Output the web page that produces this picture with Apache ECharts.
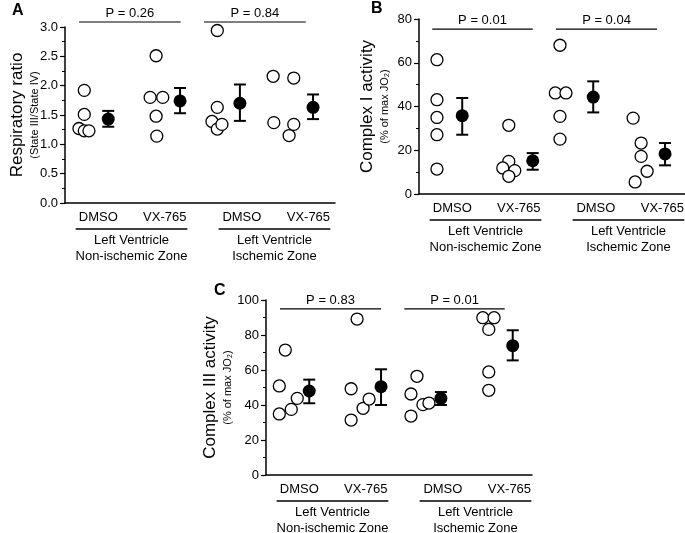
<!DOCTYPE html>
<html>
<head>
    <meta charset="utf-8">
    <title>Respiratory ratio / Complex I / Complex III</title>
    <script src="https://cdn.jsdelivr.net/npm/echarts@6/dist/echarts.min.js"></script>
    <style>
        html, body { margin: 0; padding: 0; background: #fff; }
    </style>
</head>
<body>
    <div id="main" style="width: 685px;height:533px;"></div>
    <script type="text/javascript">
        // shared category labels
        var groupNames = ['DMSO', 'VX-765', 'DMSO', 'VX-765'];
        var labelX = [0.5, 1.5, 2.66, 3.66];
        var zoneNames = ['Left Ventricle\nNon-ischemic Zone', 'Left Ventricle\nIschemic Zone'];
        var zoneX = [1.0, 3.15];
        var zoneHalf = 0.84;

        // A: respiratory ratio
        var rrX = [[0.29, 0.29, 0.21, 0.29, 0.36], [1.37, 1.28, 1.47, 1.37, 1.38], [2.29, 2.29, 2.21, 2.29, 2.36], [3.13, 3.44, 3.14, 3.44, 3.37]];
        var rrVals = [[1.92, 1.51, 1.27, 1.23, 1.23], [2.51, 1.80, 1.80, 1.48, 1.14], [2.94, 1.63, 1.39, 1.26, 1.34], [2.16, 2.13, 1.37, 1.34, 1.15]];
        var rrMeanX = [0.65, 1.73, 2.63, 3.73];
        var rrMean = [1.43, 1.74, 1.70, 1.63];
        var rrLo = [1.30, 1.53, 1.40, 1.43];
        var rrHi = [1.57, 1.96, 2.02, 1.85];
        var rrP = ['P = 0.26', 'P = 0.84'];
        var rrPSpan = [[0.21, 1.74], [2.09, 3.62]];
        var rrPY = 3.085;

        // B: complex I activity
        var ciX = [[0.27, 0.27, 0.27, 0.27, 0.27], [1.35, 1.35, 1.26, 1.44, 1.35], [2.12, 2.05, 2.21, 2.12, 2.12], [3.22, 3.34, 3.34, 3.43, 3.25]];
        var ciVals = [[61.4, 43.1, 35.0, 27.1, 11.4], [31.4, 14.9, 11.9, 10.7, 8.1], [68.0, 46.2, 46.2, 35.5, 25.1], [34.7, 23.3, 17.2, 10.4, 5.5]];
        var ciMeanX = [0.65, 1.71, 2.62, 3.70];
        var ciMean = [35.8, 15.2, 44.3, 18.3];
        var ciLo = [27.1, 11.1, 37.3, 13.1];
        var ciHi = [43.9, 18.7, 51.5, 23.3];
        var ciP = ['P = 0.01', 'P = 0.04'];
        var ciPSpan = [[0.20, 1.71], [2.06, 3.58]];
        var ciPY = 75.4;

        // C: complex III activity
        var c3X = [[0.20, 0.20, 0.29, 0.38, 0.47], [1.37, 1.28, 1.28, 1.46, 1.55], [2.18, 2.18, 2.27, 2.36, 2.45], [3.26, 3.43, 3.35, 3.35, 3.35]];
        var c3Vals = [[34.9, 50.9, 71.4, 37.5, 43.8], [89.1, 49.3, 31.4, 38.1, 43.4], [33.7, 46.3, 56.4, 40.2, 41.1], [89.9, 89.9, 83.2, 58.9, 48.4]];
        var c3MeanX = [0.65, 1.73, 2.63, 3.71];
        var c3Mean = [48.0, 50.5, 43.8, 73.9];
        var c3Lo = [41.0, 40.0, 40.0, 65.5];
        var c3Hi = [54.5, 60.4, 47.4, 82.7];
        var c3P = ['P = 0.83', 'P = 0.01'];
        var c3PSpan = [[0.21, 1.73], [2.08, 3.59]];
        var c3PY = 94.9;

        var FONT = 'Liberation Sans, Arial, sans-serif';

        function xAxisFor(i, max) {
            return {
                type: 'value', gridIndex: i, min: 0, max: max,
                axisLine: { show: true, onZero: false, lineStyle: { color: '#000', width: 1.5 } },
                axisTick: { show: false },
                splitLine: { show: false },
                axisLabel: {
                    customValues: labelX, margin: 8,
                    color: '#000', fontSize: 13, fontFamily: FONT,
                    formatter: function (v) { return groupNames[labelX.indexOf(v)]; }
                }
            };
        }

        function yAxisFor(i, max, interval, digits, title, sub, gap) {
            return {
                type: 'value', gridIndex: i, min: 0, max: max, interval: interval,
                name: '{a|' + title + '}\n{b|' + sub + '}',
                nameLocation: 'middle', nameGap: gap, nameRotate: 90,
                nameMoveOverlap: false,
                nameTextStyle: {
                    color: '#000', fontFamily: FONT,
                    rich: {
                        a: { fontSize: 17, lineHeight: 19, fontFamily: FONT, color: '#000' },
                        b: { fontSize: 11, lineHeight: 15, fontFamily: FONT, color: '#000' }
                    }
                },
                axisLine: { show: true, lineStyle: { color: '#000', width: 1.5 } },
                axisTick: { show: true, length: 5, lineStyle: { color: '#000', width: 1.2 } },
                minorTick: { show: true, splitNumber: 2, length: 3, lineStyle: { color: '#000', width: 1 } },
                splitLine: { show: false },
                axisLabel: {
                    margin: 7, color: '#000', fontSize: 13, fontFamily: FONT,
                    formatter: function (v) { return v.toFixed(digits); }
                }
            };
        }

        function panelSeries(i, xs, vals, meanX, mean, lo, hi, pText, pSpan, pY) {
            var pts = [];
            for (var g = 0; g < vals.length; g++) {
                for (var k = 0; k < vals[g].length; k++) {
                    pts.push([xs[g][k], vals[g][k]]);
                }
            }
            return [
                {   // individual animals
                    type: 'scatter', xAxisIndex: i, yAxisIndex: i,
                    data: pts, symbol: 'circle', symbolSize: 12,
                    itemStyle: { color: '#fff', borderColor: '#000', borderWidth: 1.3, opacity: 1 },
                    z: 3
                },
                {   // error bars
                    type: 'custom', xAxisIndex: i, yAxisIndex: i,
                    data: meanX.map(function (x, k) { return [x, lo[k], hi[k]]; }),
                    renderItem: function (params, api) {
                        var top = api.coord([api.value(0), api.value(2)]);
                        var bot = api.coord([api.value(0), api.value(1)]);
                        var w = 6;
                        var st = { stroke: '#000', lineWidth: 2 };
                        return {
                            type: 'group', children: [
                                { type: 'line', shape: { x1: top[0], y1: top[1], x2: bot[0], y2: bot[1] }, style: st },
                                { type: 'line', shape: { x1: top[0] - w, y1: top[1], x2: top[0] + w, y2: top[1] }, style: st },
                                { type: 'line', shape: { x1: bot[0] - w, y1: bot[1], x2: bot[0] + w, y2: bot[1] }, style: st }
                            ]
                        };
                    },
                    z: 4
                },
                {   // mean
                    type: 'scatter', xAxisIndex: i, yAxisIndex: i,
                    data: meanX.map(function (x, k) { return [x, mean[k]]; }),
                    symbol: 'circle', symbolSize: 13,
                    itemStyle: { color: '#000', opacity: 1 },
                    z: 5
                },
                {   // P value brackets
                    type: 'custom', xAxisIndex: i, yAxisIndex: i,
                    data: pSpan.map(function (s) { return [s[0], pY, s[1]]; }),
                    renderItem: function (params, api) {
                        var a = api.coord([api.value(0), api.value(1)]);
                        var b = api.coord([api.value(2), api.value(1)]);
                        return {
                            type: 'group', children: [
                                { type: 'line', shape: { x1: a[0], y1: a[1], x2: b[0], y2: b[1] }, style: { stroke: '#000', lineWidth: 1.2 } },
                                { type: 'text', style: { text: pText[params.dataIndex], x: (a[0] + b[0]) / 2, y: a[1] - 2, align: 'center', verticalAlign: 'bottom', fontSize: 13, fontFamily: FONT, fill: '#000' } }
                            ]
                        };
                    }
                },
                {   // zone labels under the axis
                    type: 'custom', xAxisIndex: i, yAxisIndex: i,
                    data: zoneX.map(function (x) { return [x, 0]; }),
                    renderItem: function (params, api) {
                        var l = api.coord([api.value(0) - zoneHalf, 0]);
                        var r = api.coord([api.value(0) + zoneHalf, 0]);
                        var c = api.coord([api.value(0), 0]);
                        return {
                            type: 'group', children: [
                                { type: 'line', shape: { x1: l[0], y1: l[1] + 26, x2: r[0], y2: r[1] + 26 }, style: { stroke: '#000', lineWidth: 1.5 } },
                                { type: 'text', style: { text: zoneNames[params.dataIndex], x: c[0], y: c[1] + 29, align: 'center', verticalAlign: 'top', lineHeight: 16, fontSize: 13, fontFamily: FONT, fill: '#000' } }
                            ]
                        };
                    }
                }
            ];
        }

        var myChart = echarts.init(document.getElementById('main'));

        var option = {
            animation: false,
            backgroundColor: '#fff',
            textStyle: { fontFamily: FONT },
            grid: [
                { left: 65, top: 27, width: 270, height: 176, outerBoundsMode: 'none' },
                { left: 419, top: 19, width: 266, height: 175, outerBoundsMode: 'none' },
                { left: 266, top: 300, width: 266, height: 175, outerBoundsMode: 'none' }
            ],
            xAxis: [xAxisFor(0, 4.06), xAxisFor(1, 4.0), xAxisFor(2, 4.0)],
            yAxis: [
                yAxisFor(0, 3, 0.5, 1, 'Respiratory ratio', '(State III/State IV)', 23),
                yAxisFor(1, 80, 20, 0, 'Complex I activity', '(% of max JO\u2082)', 27),
                yAxisFor(2, 100, 20, 0, 'Complex III activity', '(% of max JO\u2082)', 31)
            ],
            graphic: [
                { type: 'text', left: 12, top: 3, style: { text: 'A', font: 'bold 16px ' + FONT, fill: '#000' } },
                { type: 'text', left: 371, top: 1, style: { text: 'B', font: 'bold 16px ' + FONT, fill: '#000' } },
                { type: 'text', left: 214, top: 283, style: { text: 'C', font: 'bold 16px ' + FONT, fill: '#000' } }
            ],
            series: [].concat(
                panelSeries(0, rrX, rrVals, rrMeanX, rrMean, rrLo, rrHi, rrP, rrPSpan, rrPY),
                panelSeries(1, ciX, ciVals, ciMeanX, ciMean, ciLo, ciHi, ciP, ciPSpan, ciPY),
                panelSeries(2, c3X, c3Vals, c3MeanX, c3Mean, c3Lo, c3Hi, c3P, c3PSpan, c3PY)
            )
        };

        myChart.setOption(option);
    </script>
</body>
</html>
